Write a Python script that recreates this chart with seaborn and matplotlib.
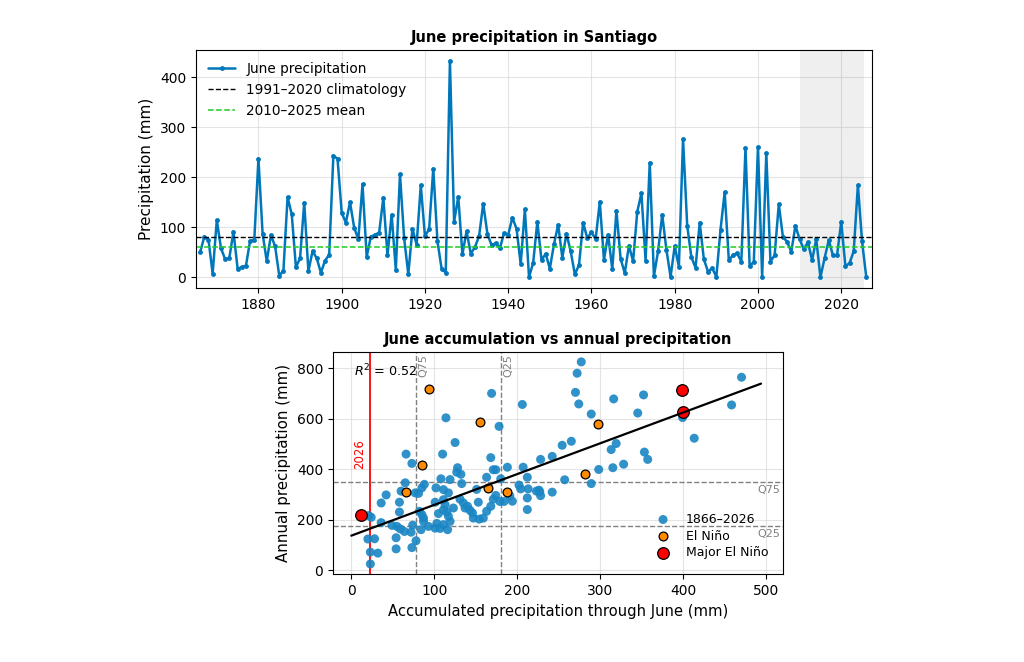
import numpy as np
import pandas as pd
import matplotlib
matplotlib.use("Agg")
import matplotlib.pyplot as plt
import seaborn as sns

# --- June precipitation series (mm), 1866-2026 ---
years = list(range(1866, 2027))
june_mm = [
    50, 81, 75, 7, 114, 58, 36, 38, 91, 17,          # 1866-1875
    20, 23, 73, 74, 237, 87, 32, 84, 62, 3,          # 1876-1885
    13, 160, 126, 20, 38, 149, 12, 52, 38, 9,        # 1886-1895
    33, 45, 243, 237, 129, 109, 150, 99, 76, 186,    # 1896-1905
    41, 81, 85, 89, 159, 44, 125, 15, 206, 78,       # 1906-1915
    6, 97, 65, 184, 82, 96, 217, 72, 17, 9,          # 1916-1925
    433, 111, 161, 46, 92, 47, 60, 82, 147, 87,      # 1926-1935
    64, 68, 58, 88, 85, 119, 97, 26, 136, 0,         # 1936-1945
    29, 111, 34, 47, 17, 66, 105, 39, 87, 52,        # 1946-1955
    6, 24, 109, 78, 90, 76, 151, 35, 85, 16,         # 1956-1965
    133, 37, 8, 63, 32, 131, 168, 33, 229, 2,        # 1966-1975
    52, 125, 55, 1, 62, 21, 276, 103, 40, 19,        # 1976-1985
    109, 36, 11, 18, 1, 95, 170, 34, 44, 48,         # 1986-1995
    31, 259, 22, 31, 261, 0, 248, 31, 44, 146,       # 1996-2005
    80, 71, 51, 103, 76, 56, 70, 34, 76, 0,          # 2006-2015
    38, 74, 44, 44, 111, 22, 28, 52, 184, 72,        # 2016-2025
    1,                                               # 2026
]
clim_start, clim_end = 1991, 2020
recent_start, recent_end = 2010, 2025

# --- accumulated Jan-Jun vs annual precipitation (mm) ---
accum_mm = [
    277, 272, 270, 274, 289, 316, 352, 345, 470, 458, 399, 413, 319, 313,
    353, 357, 265, 254, 242, 228, 328, 315, 298, 289, 257, 242, 228, 226,
    169, 206, 114, 178, 125, 66, 110, 168, 73, 128, 127, 132, 119, 108,
    133, 88, 85, 65, 77, 81, 60, 42, 36, 58, 58, 21, 36, 49, 55, 59, 64,
    72, 74, 78, 73, 54, 54, 20, 28, 23, 32, 23, 24, 82, 87, 85, 87, 84,
    93, 101, 105, 111, 113, 115, 117, 119, 111, 103, 101, 107, 116, 111,
    123, 131, 135, 137, 140, 143, 146, 147, 154, 159, 163, 153, 168, 171,
    174, 179, 184, 191, 194, 163, 171, 174, 180, 188, 207, 212, 213, 223,
    212, 212, 202, 204, 227, 117, 111, 102, 151,
]
annual_mm = [
    826, 781, 705, 659, 619, 679, 695, 623, 765, 655, 605, 523, 502, 478,
    468, 439, 511, 495, 451, 439, 420, 406, 399, 343, 358, 309, 295, 317,
    701, 657, 604, 570, 506, 460, 460, 446, 423, 406, 388, 380, 359, 362,
    343, 340, 326, 346, 306, 304, 313, 298, 266, 269, 230, 216, 188, 177,
    173, 163, 153, 150, 178, 116, 89, 128, 84, 123, 124, 71, 67, 24, 209,
    233, 206, 220, 193, 160, 173, 269, 224, 279, 259, 230, 213, 193, 180,
    185, 166, 165, 160, 239, 246, 281, 266, 246, 253, 237, 226, 206, 202,
    206, 233, 269, 253, 281, 296, 272, 272, 294, 273, 368, 398, 398, 362,
    408, 408, 368, 322, 313, 286, 240, 337, 322, 311, 306, 319, 326, 320,
]
nino_accum = [94, 155, 85, 66, 165, 188, 297, 281]
nino_annual = [718, 589, 418, 311, 325, 311, 578, 382]
major_accum = [12, 398, 400]
major_annual = [220, 715, 628]

current_accum = 23          # accumulated so far in 2026
q75_accum, q25_accum = 78, 180
q75_annual, q25_annual = 351, 176
r2_value = 0.52

sns.set_style("ticks")
plt.rcParams["font.family"] = ["DejaVu Sans"]
plt.rcParams.update({
    "text.color": "black", "axes.labelcolor": "black", "axes.edgecolor": "black",
    "xtick.color": "black", "ytick.color": "black",
})

blue = "#0077BB"
fig = plt.figure(figsize=(10.24, 6.62), dpi=100)

# ---------------- top panel ----------------
ax1 = fig.add_axes([0.1914, 0.5650, 0.6602, 0.3595])
df = pd.DataFrame({"year": years, "june": june_mm})
clim = df[(df.year >= clim_start) & (df.year <= clim_end)].june.mean()
recent = df[(df.year >= recent_start) & (df.year <= recent_end)].june.mean()

ax1.axvspan(recent_start, recent_end + 0.5, color="0.5", alpha=0.12, lw=0)
sns.lineplot(data=df, x="year", y="june", ax=ax1, color=blue, lw=1.8,
             marker="o", markersize=3.5, markeredgewidth=0, label="June precipitation")
ax1.axhline(clim, color="black", ls="--", lw=1, label="1991\u20132020 climatology")
ax1.axhline(recent, color="#22cc22", ls="--", lw=1.1, label="2010\u20132025 mean")
ax1.set_xlim(1865, 2027.4)
ax1.set_ylim(-21.6, 454.6)
ax1.set_yticks([0, 100, 200, 300, 400])
ax1.set_xlabel("")
ax1.set_ylabel("Precipitation (mm)", fontsize=11)
ax1.set_title("June precipitation in Santiago", fontsize=10.5, fontweight="bold")
ax1.tick_params(labelsize=10)
ax1.grid(True, color="0.85", lw=0.8, alpha=0.7)
ax1.legend(loc="upper left", frameon=False, fontsize=9.8)

# ---------------- bottom panel ----------------
ax2 = fig.add_axes([0.3252, 0.1325, 0.4395, 0.3353])
sc = pd.DataFrame({"accum": accum_mm, "annual": annual_mm})
sns.scatterplot(data=sc, x="accum", y="annual", ax=ax2, color="#1a86c4", alpha=0.9,
                s=42, edgecolor="none", label="1866\u20132026", zorder=3)
sns.scatterplot(x=nino_accum, y=nino_annual, ax=ax2, color="#ff8c00", s=40,
                edgecolor="black", linewidth=0.9, label="El Ni\u00f1o", zorder=4)
sns.scatterplot(x=major_accum, y=major_annual, ax=ax2, color="red", s=70,
                edgecolor="black", linewidth=0.9, label="Major El Ni\u00f1o", zorder=5)

slope, intercept = np.polyfit(sc.accum, sc.annual, 1)
xs = np.linspace(0, max(accum_mm) * 1.05, 50)
ax2.plot(xs, intercept + slope * xs, color="black", lw=1.6, zorder=6)

ax2.axvline(current_accum, color="red", lw=1.3, zorder=2)
ax2.text(current_accum - 5, 400, "2026", color="red", rotation=90,
         ha="right", va="bottom", fontsize=8.5)
for xv, lab in [(q75_accum, "Q75"), (q25_accum, "Q25")]:
    ax2.axvline(xv, color="gray", ls="--", lw=1, zorder=2)
    ax2.text(xv + 3, 855, lab, color="gray", rotation=90, ha="left", va="top", fontsize=8)
for yv, lab in [(q75_annual, "Q75"), (q25_annual, "Q25")]:
    ax2.axhline(yv, color="gray", ls="--", lw=1, zorder=2)
    ax2.text(517, yv - 12, lab, color="gray", ha="right", va="top", fontsize=8)

ax2.text(3, 790, f"$R^2$ = {r2_value:.2f}", fontsize=9.2, ha="left", va="center")
ax2.set_xlim(-22, 520)
ax2.set_ylim(-17, 864)
ax2.set_xticks([0, 100, 200, 300, 400, 500])
ax2.set_yticks([0, 200, 400, 600, 800])
ax2.set_xlabel("Accumulated precipitation through June (mm)", fontsize=10.6)
ax2.set_ylabel("Annual precipitation (mm)", fontsize=10.8)
ax2.set_title("June accumulation vs annual precipitation", fontsize=10.5, fontweight="bold")
ax2.tick_params(labelsize=10)
ax2.grid(True, color="0.85", lw=0.8, alpha=0.7)
ax2.legend(loc="lower right", frameon=False, fontsize=9, handletextpad=0.8,
           labelspacing=0.3, borderaxespad=0.8)

fig.savefig("out.png", dpi=100)
